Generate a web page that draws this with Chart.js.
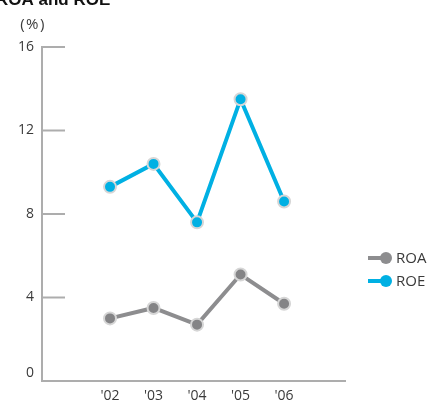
<!DOCTYPE html>
<html>
<head>
<meta charset="utf-8">
<script src="https://cdn.jsdelivr.net/npm/chart.js@4"></script>
<style>
  html, body { margin: 0; padding: 0; background: #fff; }
  #wrap { width: 433px; height: 401px; position: relative; }
</style>
</head>
<body>
<div id="wrap"><canvas id="c" width="433" height="401"></canvas></div>
<script>
const years = ["'02", "'03", "'04", "'05", "'06"];
const roa = [3.0, 3.5, 2.7, 5.1, 3.7];
const roe = [9.3, 10.4, 7.6, 13.5, 8.6];
const yTicks = [0, 4, 8, 12, 16];
const seriesNames = ['ROA', 'ROE'];
const titleText = 'ROA and ROE';
const unitText = '(%)';

const FONT = '"Open Sans", "DejaVu Sans", sans-serif';
const AXIS = '#adadad';
const TEXT = '#3a3a3a';
const GRAY = '#8d8d8f';
const BLUE = '#00b0e3';

// title, unit label, short inward tick marks and the legend
const decor = {
  id: 'decor',
  afterDraw(chart) {
    const ctx = chart.ctx;
    const area = chart.chartArea;
    const y = chart.scales.y;
    ctx.save();

    ctx.fillStyle = '#111';
    ctx.font = 'bold 17px "Liberation Sans", Arial, sans-serif';
    ctx.textBaseline = 'alphabetic';
    ctx.textAlign = 'left';
    ctx.fillText(titleText, -4, 5);

    ctx.fillStyle = TEXT;
    ctx.font = '15px ' + FONT;
    ctx.textAlign = 'center';
    ctx.textBaseline = 'middle';
    if ('letterSpacing' in ctx) ctx.letterSpacing = '1.5px';
    ctx.fillText(unitText, 33, 25);
    if ('letterSpacing' in ctx) ctx.letterSpacing = '0px';

    ctx.strokeStyle = AXIS;
    ctx.lineWidth = 2;
    yTicks.forEach(v => {
      if (v === 0) return;
      const py = y.getPixelForValue(v);
      ctx.beginPath();
      ctx.moveTo(area.left, py);
      ctx.lineTo(area.left + 23, py);
      ctx.stroke();
    });

    const colors = [GRAY, BLUE];
    const rows = [258, 281];
    ctx.font = '15px ' + FONT;
    ctx.textAlign = 'left';
    ctx.textBaseline = 'middle';
    seriesNames.forEach((name, i) => {
      const ly = rows[i];
      ctx.strokeStyle = colors[i];
      ctx.lineWidth = 4;
      ctx.beginPath();
      ctx.moveTo(368, ly);
      ctx.lineTo(385, ly);
      ctx.stroke();
      ctx.fillStyle = colors[i];
      ctx.beginPath();
      ctx.arc(386, ly, 6, 0, Math.PI * 2);
      ctx.fill();
      ctx.fillStyle = TEXT;
      ctx.fillText(name, 396, ly + 1);
    });
    ctx.restore();
  }
};

function series(values) {
  return values.map((v, i) => ({ x: i, y: v }));
}

new Chart(document.getElementById('c'), {
  type: 'line',
  data: {
    datasets: [
      {
        label: seriesNames[0],
        data: series(roa),
        borderColor: GRAY,
        backgroundColor: '#848486',
        borderWidth: 4,
        pointRadius: 6,
        pointBorderWidth: 2,
        pointBorderColor: '#d6d6d6',
        pointBackgroundColor: '#848486',
        tension: 0
      },
      {
        label: seriesNames[1],
        data: series(roe),
        borderColor: BLUE,
        backgroundColor: BLUE,
        borderWidth: 4,
        pointRadius: 6,
        pointBorderWidth: 2,
        pointBorderColor: '#d6d6d6',
        pointBackgroundColor: BLUE,
        tension: 0
      }
    ]
  },
  options: {
    responsive: false,
    animation: false,
    events: [],
    layout: { padding: { top: 47, right: 88, bottom: 0, left: 0 } },
    plugins: {
      legend: { display: false },
      tooltip: { enabled: false }
    },
    scales: {
      x: {
        type: 'linear',
        min: -1.563,
        max: 5.4,
        afterBuildTicks: s => { s.ticks = years.map((_, i) => ({ value: i })); },
        afterFit: s => { s.height = 20; },
        grid: { display: false, drawTicks: false },
        border: { display: true, color: AXIS, width: 2 },
        ticks: {
          autoSkip: false,
          maxRotation: 0,
          padding: 7,
          color: TEXT,
          font: { family: FONT, size: 14 },
          callback: v => years[v]
        }
      },
      y: {
        min: 0,
        max: 16,
        afterBuildTicks: s => { s.ticks = yTicks.map(v => ({ value: v })); },
        afterFit: s => {
          s.width = 42;
          s.paddingTop = 0;
          s.paddingBottom = 0;
        },
        grid: { display: false, drawTicks: false },
        border: { display: true, color: AXIS, width: 2 },
        ticks: {
          padding: 8,
          color: TEXT,
          font: { family: FONT, size: 14 },
          // the zero label sits a little above the baseline
          callback: v => (v === 0 ? [String(v), ''] : String(v))
        }
      }
    }
  },
  plugins: [decor]
});
</script>
</body>
</html>
